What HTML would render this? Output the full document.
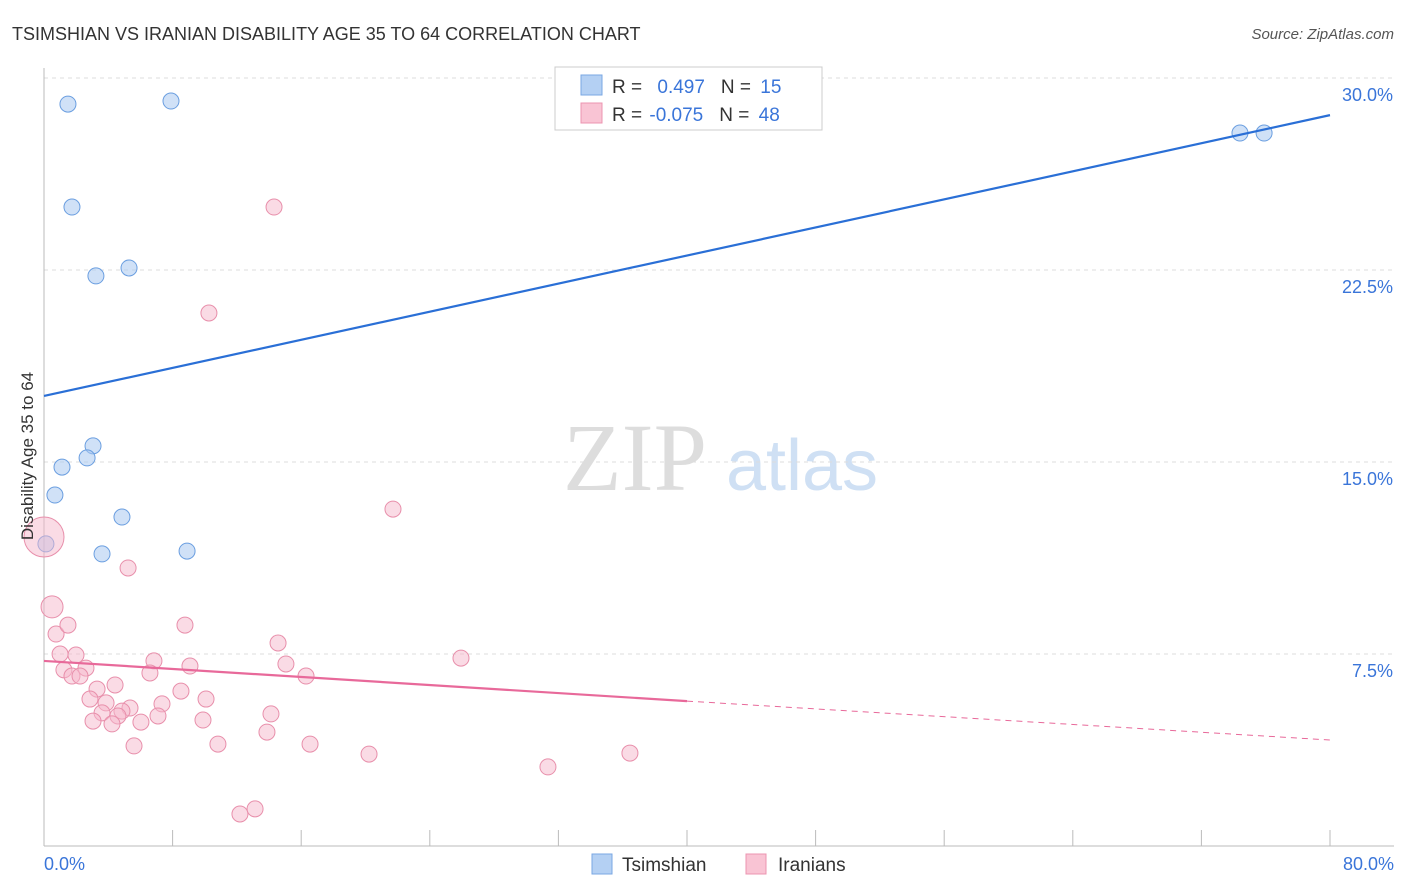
<!DOCTYPE html>
<html><head><meta charset="utf-8"><style>
body{margin:0;background:#fff;font-family:"Liberation Sans",sans-serif}
svg{display:block}
</style></head><body>
<svg id="chart" width="1406" height="892">
<text x="12" y="40" font-size="18" fill="#333">TSIMSHIAN VS IRANIAN DISABILITY AGE 35 TO 64 CORRELATION CHART</text>
<text x="1394" y="39" font-size="15" fill="#555" font-style="italic" text-anchor="end">Source: ZipAtlas.com</text>
<g>
<text x="635" y="490" font-size="96" font-family="Liberation Serif,serif" fill="#ddd" text-anchor="middle">ZIP</text>
<text x="802" y="490" font-size="72" fill="#cfe0f4" text-anchor="middle">atlas</text>
</g>
<g id="grid"></g>
<g id="axes"></g>
<g id="marks"></g>
<text transform="translate(33,456) rotate(-90)" font-size="17" fill="#333" text-anchor="middle">Disability Age 35 to 64</text>
<g>
<rect x="555" y="67" width="267" height="63" fill="#fff" stroke="#ccc"/>
<rect x="581" y="75" width="21" height="20" fill="#b4d0f3" stroke="#7aa7e3"/>
<rect x="581" y="103" width="21" height="20" fill="#f9c4d4" stroke="#ec94b0"/>
<text x="612" y="93" font-size="19" fill="#333">R = <tspan fill="#3a75d9" dx="10">0.497</tspan><tspan dx="16" fill="#333">N = </tspan><tspan fill="#3a75d9" dx="4">15</tspan></text>
<text x="612" y="121" font-size="19" fill="#333">R = <tspan fill="#3a75d9" dx="2">-0.075</tspan><tspan dx="16" fill="#333">N = </tspan><tspan fill="#3a75d9" dx="4">48</tspan></text>
</g>
<g>
<rect x="592" y="854" width="20" height="20" fill="#b4d0f3" stroke="#7aa7e3"/>
<text x="622" y="871" font-size="19" fill="#333">Tsimshian</text>
<rect x="746" y="854" width="20" height="20" fill="#f9c4d4" stroke="#ec94b0"/>
<text x="778" y="871" font-size="19" fill="#333">Iranians</text>
</g>
</svg>
<script>
const yTicks=[7.5,15,22.5,30];
const yTickLabels=["7.5%","15.0%","22.5%","30.0%"];
const xTickLabels=["0.0%","80.0%"];
const tsimX=[1.49,7.90,1.74,3.23,5.29,3.05,2.68,1.12,0.68,4.85,3.61,8.90,0.12,74.4,75.9];
const tsimY=[28.98,29.10,24.96,22.27,22.58,15.63,15.16,14.80,13.71,12.85,11.41,11.52,11.80,27.85,27.85];
const iranX=[14.31,10.26,21.71,5.23,0.50,0.0,0.75,1.49,8.77,14.56,1.0,1.99,6.84,9.08,15.05,25.94,2.61,1.24,1.74,2.24,16.30,6.59,4.42,3.30,8.52,2.86,3.86,10.08,7.34,5.35,4.85,3.61,4.60,7.09,14.12,3.05,6.03,4.23,9.89,13.87,5.60,10.82,16.55,20.22,36.45,31.35,12.19,13.13];
const iranY=[24.96,20.82,13.16,10.86,9.34,12.07,8.28,8.63,8.63,7.93,7.5,7.46,7.23,7.03,7.11,7.34,6.95,6.88,6.64,6.64,6.64,6.76,6.29,6.13,6.05,5.74,5.59,5.74,5.55,5.39,5.27,5.20,5.08,5.08,5.16,4.88,4.84,4.77,4.92,4.45,3.91,3.98,3.98,3.59,3.63,3.09,1.25,1.45];
const iranBig=[0,0,0,0,11,20,0,0,0,0,0,0,0,0,0,0,0,0,0,0,0,0,0,0,0,0,0,0,0,0,0,0,0,0,0,0,0,0,0,0,0,0,0,0,0,0,0,0];
const tsimLine=[17.58,28.55];
const iranLine=[7.23,5.66,4.14];
const NS="http://www.w3.org/2000/svg";
const X=v=>44+v/80*1286, Y=v=>846-v*25.6;
function mk(t,a,p){const e=document.createElementNS(NS,t);for(const k in a)e.setAttribute(k,a[k]);p.appendChild(e);return e;}
const grid=document.getElementById('grid'),axes=document.getElementById('axes'),marks=document.getElementById('marks');
yTicks.forEach((v,i)=>{
 const l=mk('line',{x1:44,x2:1394,y1:Y(v),y2:Y(v),stroke:'#ddd','stroke-dasharray':'4,4'},grid);
 
 
 const t=mk('text',{x:1393,y:Y(v)+23,'font-size':18,fill:'#3a75d9','text-anchor':'end'},grid);
 t.textContent=yTickLabels[i];
 
 
});
const ax=mk('line',{x1:44,x2:1394,y1:846,y2:846,stroke:'#bbb'},axes);


const ay=mk('line',{x1:44,x2:44,y1:68,y2:846,stroke:'#bbb'},axes);


for(let i=0;i<=10;i++){const t=mk('line',{x1:X(i*8),x2:X(i*8),y1:830,y2:846,stroke:'#bbb'},axes);
 
 }
[[0,'start',44],[80,'end',1394]].forEach((d,i)=>{const t=mk('text',{x:d[2],y:870,'font-size':18,fill:'#3a75d9','text-anchor':d[1]},axes);t.textContent=xTickLabels[i];
 
 });
tsimX.forEach((x,i)=>{const c=mk('circle',{cx:X(x),cy:Y(tsimY[i]),r:8,fill:'rgba(169,200,240,0.55)',stroke:'#6a9ee0','stroke-width':1},marks);
 
 });
iranX.forEach((x,i)=>{const c=mk('circle',{cx:X(x),cy:Y(iranY[i]),r:iranBig[i]||8,fill:'rgba(245,184,203,0.5)',stroke:'#e88fab','stroke-width':1},marks);
 
 });
const bl=mk('line',{x1:X(0),y1:Y(tsimLine[0]),x2:X(80),y2:Y(tsimLine[1]),stroke:'#2a6fd6','stroke-width':2.2},marks);


const pl=mk('line',{x1:X(0),y1:Y(iranLine[0]),x2:X(40),y2:Y(iranLine[1]),stroke:'#e8699a','stroke-width':2.2},marks);


const pd=mk('line',{x1:X(40),y1:Y(iranLine[1]),x2:X(80),y2:Y(iranLine[2]),stroke:'#e8699a','stroke-width':1,'stroke-dasharray':'6,5'},marks);


</script>
</body></html>
